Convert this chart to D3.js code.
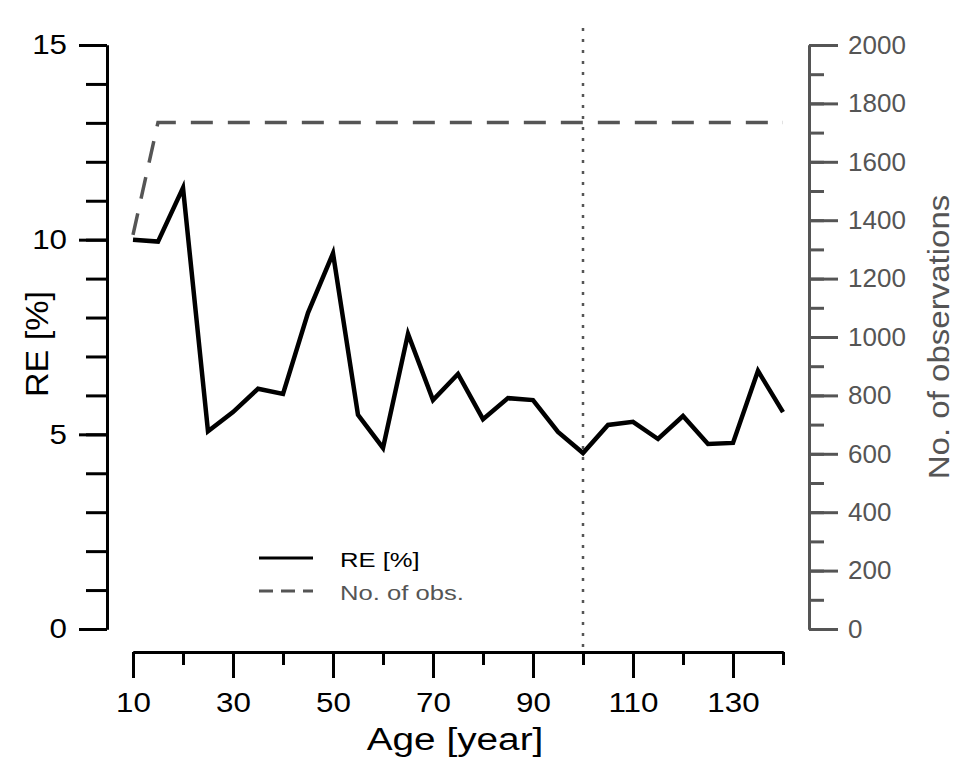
<!DOCTYPE html>
<html>
<head>
<meta charset="utf-8">
<script src="https://cdn.jsdelivr.net/npm/d3@7"></script>
<style>
  body { margin: 0; background: #fff; }
  svg text { font-family: "Liberation Sans", Arial, sans-serif; }
</style>
</head>
<body>
<div class="content"></div>
<script>
const SVG_W = 955;
const SVG_H = 767;

// data
const ages = [10, 15, 20, 25, 30, 35, 40, 45, 50, 55, 60, 65, 70, 75, 80, 85, 90, 95, 100, 105, 110, 115, 120, 125, 130, 135, 140];
const reValues = [10.0, 9.95, 11.33, 5.08, 5.57, 6.17, 6.04, 8.12, 9.65, 5.5, 4.65, 7.58, 5.88, 6.55, 5.39, 5.93, 5.88, 5.06, 4.52, 5.24, 5.32, 4.88, 5.47, 4.75, 4.78, 6.63, 5.57];
const obsValues = [1350, 1735, 1735, 1735, 1735, 1735, 1735, 1735, 1735, 1735, 1735, 1735, 1735, 1735, 1735, 1735, 1735, 1735, 1735, 1735, 1735, 1735, 1735, 1735, 1735, 1735, 1735];
const xMajorTicks = [10, 30, 50, 70, 90, 110, 130];
const xMinorTicks = [20, 40, 60, 80, 100, 120, 140];
const reMajorTicks = [0, 5, 10, 15];
const obsMajorTicks = [0, 200, 400, 600, 800, 1000, 1200, 1400, 1600, 1800, 2000];
const cutAge = 100;
const legendLabels = ["RE [%]", "No. of obs."];

const GREY = "#555";
const STRETCH = 1.12; // text in the original is a bit wide

const svg = d3.select(".content").append("svg").attr("width", SVG_W).attr("height", SVG_H);

// scales
const x = d3.scaleLinear().domain([10, 140]).range([133, 783]);
const yRE = d3.scaleLinear().domain([0, 15]).range([629, 45]);
const yObs = d3.scaleLinear().domain([0, 2000]).range([629, 45]);

//x-axis (minor + major ticks)
const xg = svg.append("g").attr("transform", "translate(0,652)");
xg.append("g").call(d3.axisBottom(x).tickValues(xMinorTicks).tickSize(13).tickSizeOuter(0).tickFormat(""));
const xMajor = xg.append("g").call(d3.axisBottom(x).tickValues(xMajorTicks).tickSize(26).tickSizeOuter(0).tickPadding(14));
xMajor.selectAll(".tick text").attr("font-size", 28).attr("transform", `scale(${STRETCH},1)`);

//left axis
const lg = svg.append("g").attr("transform", "translate(107,0)");
lg.append("g").call(d3.axisLeft(yRE).tickValues(d3.range(0, 16)).tickSize(21).tickSizeOuter(0).tickFormat(""));
const lMajor = lg.append("g").call(d3.axisLeft(yRE).tickValues(reMajorTicks).tickSize(28).tickSizeOuter(0));
lMajor.selectAll(".tick text")
  .attr("font-size", 28)
  .attr("x", -40 / STRETCH)
  .attr("transform", `scale(${STRETCH},1)`);

//right axis
const rg = svg.append("g").attr("transform", "translate(809,0)");
rg.append("g").call(d3.axisRight(yObs).tickValues(d3.range(0, 2001, 100)).tickSize(15).tickSizeOuter(0).tickFormat(""));
rg.append("g").call(d3.axisRight(yObs).tickValues(obsMajorTicks).tickSize(29).tickSizeOuter(0).tickPadding(10).tickFormat(d3.format("d")));
rg.selectAll(".tick text").attr("font-size", 26).attr("fill", GREY);

svg.selectAll(".domain, .tick line").attr("stroke-width", 3);
rg.selectAll(".domain, .tick line").attr("stroke", GREY);
svg.selectAll(".tick text").attr("font-family", "Liberation Sans, Arial, sans-serif");

// axis titles
svg.append("text")
  .attr("transform", `translate(455,750) scale(1.25,1)`)
  .attr("text-anchor", "middle")
  .attr("font-size", 31)
  .text("Age [year]");
svg.append("text")
  .attr("transform", "translate(48,344) rotate(-90) scale(1.1,1)")
  .attr("text-anchor", "middle")
  .attr("font-size", 31)
  .text("RE [%]");
svg.append("text")
  .attr("transform", "translate(949,337) rotate(-90) scale(1.14,1)")
  .attr("text-anchor", "middle")
  .attr("font-size", 29)
  .attr("fill", GREY)
  .text("No. of observations");

// vertical dotted line
svg.append("line")
  .attr("x1", x(cutAge)).attr("x2", x(cutAge))
  .attr("y1", 28).attr("y2", 652)
  .attr("stroke", GREY).attr("stroke-width", 2.5)
  .attr("stroke-dasharray", "3,8");

// lines
const reData = ages.map((a, i) => ({ age: a, v: reValues[i] }));
const obsData = ages.map((a, i) => ({ age: a, v: obsValues[i] }));

svg.append("path")
  .datum(obsData)
  .attr("fill", "none")
  .attr("stroke", GREY)
  .attr("stroke-width", 3.5)
  .attr("stroke-dasharray", "22,15")
  .attr("d", d3.line().x(d => x(d.age)).y(d => yObs(d.v)));

svg.append("path")
  .datum(reData)
  .attr("fill", "none")
  .attr("stroke", "#000")
  .attr("stroke-width", 4.5)
  .attr("stroke-linejoin", "miter")
  .attr("d", d3.line().x(d => x(d.age)).y(d => yRE(d.v)));

// legend
const leg = svg.append("g").attr("transform", "translate(259,558)");
leg.append("line").attr("x1", 0).attr("x2", 54).attr("y1", 0).attr("y2", 0)
  .attr("stroke", "#000").attr("stroke-width", 3);
leg.append("text").attr("transform", "translate(81,9) scale(1.22,1)").attr("font-size", 21).text(legendLabels[0]);
leg.append("line").attr("x1", 0).attr("x2", 54).attr("y1", 33).attr("y2", 33)
  .attr("stroke", GREY).attr("stroke-width", 3).attr("stroke-dasharray", "14,8");
leg.append("text").attr("transform", "translate(81,42) scale(1.22,1)").attr("font-size", 21).attr("fill", GREY).text(legendLabels[1]);
</script>
</body>
</html>
